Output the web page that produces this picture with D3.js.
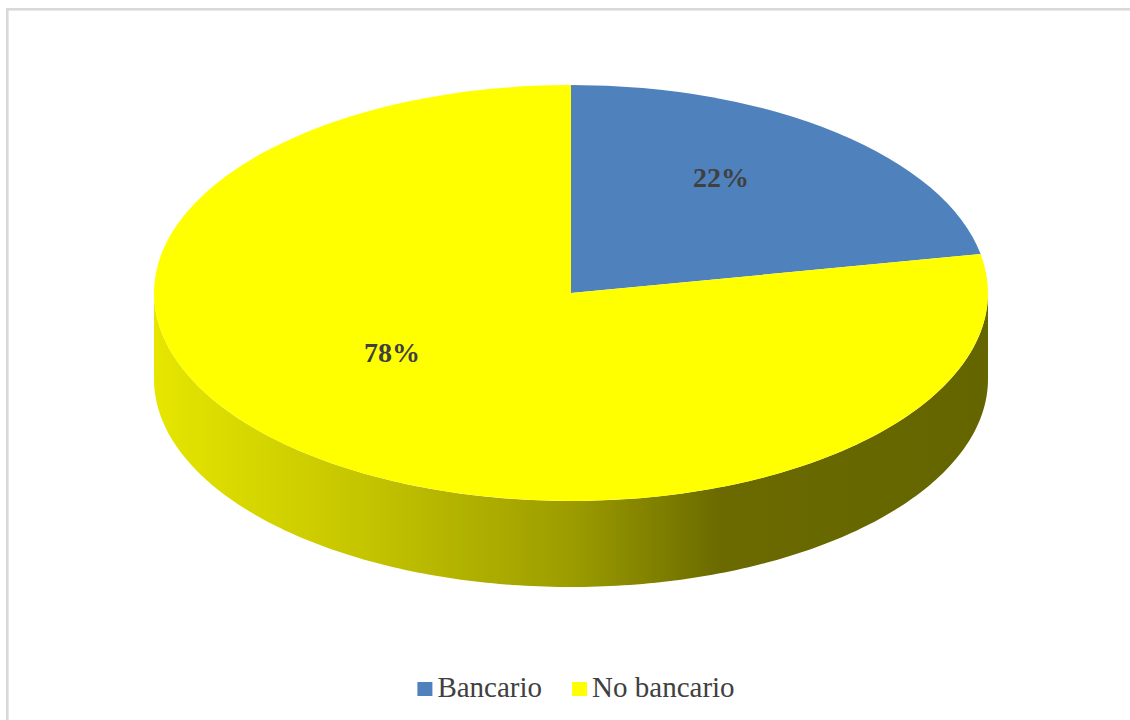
<!DOCTYPE html>
<html>
<head>
<meta charset="utf-8">
<script src="https://cdn.jsdelivr.net/npm/d3@7"></script>
<style>
  html, body { margin: 0; padding: 0; background: #ffffff; overflow: hidden; }
  svg { display: block; }
  text { font-family: "Liberation Serif", "Times New Roman", serif; }
</style>
</head>
<body>
<svg id="chart" width="1130" height="720"></svg>
<script>
// Chart data
const categories = ["Bancario", "No bancario"];
const values = [22, 78];
const labels = ["22%", "78%"];

// Styling
const topColors = ["#4f81bd", "#ffff00"];
const sideStops = [
  [["0", "#5a7fa8"], ["1", "#2e4a6d"]],
  [["0", "#e6e600"], ["0.27", "#c2c200"], ["0.5", "#9c9c00"], ["0.68", "#6a6a00"], ["1", "#656500"]]
];

// Geometry of the tilted disc
const W = 1130, H = 720;
const cx = 571, cy = 293, rx = 417, ry = 208, depth = 86;
// label placement as (angle in degrees clockwise from 12 o'clock, fraction of radius)
const labelPolar = [[33, 0.66], [236.5, 0.515]];

const svg = d3.select("#chart");

// frame
svg.append("rect")
  .attr("x", 7.3).attr("y", 9.3)
  .attr("width", W + 20).attr("height", H + 20)
  .attr("fill", "none")
  .attr("stroke", "#d9d9d9")
  .attr("stroke-width", 2.6);

const defs = svg.append("defs");
sideStops.forEach((stops, i) => {
  const g = defs.append("linearGradient")
    .attr("id", "side" + i)
    .attr("gradientUnits", "userSpaceOnUse")
    .attr("x1", cx - rx).attr("x2", cx + rx)
    .attr("y1", 0).attr("y2", 0);
  stops.forEach(([o, c]) => g.append("stop").attr("offset", o).attr("stop-color", c));
});

const pie = d3.pie().sort(null).value(d => d);
const arcs = pie(values);

const ex = t => cx + rx * Math.sin(t);
const ey = t => cy - ry * Math.cos(t);

// side walls: only the front half of the rim is visible
const sideLayer = svg.append("g");
arcs.forEach((a, i) => {
  const s = Math.max(a.startAngle, Math.PI / 2);
  const e = Math.min(a.endAngle, 3 * Math.PI / 2);
  if (e <= s) return;
  const n = 200;
  const ts = d3.range(n + 1).map(k => s + (e - s) * k / n);
  const p = d3.path();
  p.moveTo(ex(ts[0]), ey(ts[0]));
  ts.forEach(t => p.lineTo(ex(t), ey(t)));
  ts.slice().reverse().forEach(t => p.lineTo(ex(t), ey(t) + depth));
  p.closePath();
  sideLayer.append("path")
    .attr("d", p.toString())
    .attr("fill", `url(#side${i})`);
});

// top face
const arc = d3.arc().innerRadius(0).outerRadius(rx);
svg.append("g")
  .attr("transform", `translate(${cx},${cy}) scale(1,${ry / rx})`)
  .selectAll("path")
  .data(arcs)
  .join("path")
  .attr("d", arc)
  .attr("fill", (d, i) => topColors[i]);

// value labels
svg.append("g")
  .selectAll("text")
  .data(arcs)
  .join("text")
  .attr("x", (d, i) => cx + labelPolar[i][1] * rx * Math.sin(labelPolar[i][0] * Math.PI / 180))
  .attr("y", (d, i) => cy - labelPolar[i][1] * ry * Math.cos(labelPolar[i][0] * Math.PI / 180))
  .attr("text-anchor", "middle")
  .attr("dominant-baseline", "central")
  .attr("font-weight", "bold")
  .attr("font-size", 28)
  .attr("fill", "#404040")
  .text((d, i) => labels[i]);

// legend
const legend = svg.append("g");
const fontLegend = 29;
const items = legend.selectAll("g")
  .data(categories)
  .join("g");
items.append("rect")
  .attr("width", 15).attr("height", 14)
  .attr("y", -15)
  .attr("fill", (d, i) => topColors[i]);
items.append("text")
  .attr("x", 20)
  .attr("font-size", fontLegend)
  .attr("fill", "#404040")
  .text(d => d);
let xpos = 0;
const gap = 30;
const offsets = [];
items.each(function () {
  const w = 20 + this.querySelector("text").getComputedTextLength();
  offsets.push(xpos);
  xpos += w + gap;
});
const totalW = xpos - gap;
const startX = 576 - totalW / 2;
items.attr("transform", (d, i) => `translate(${startX + offsets[i]},697)`);
</script>
</body>
</html>
